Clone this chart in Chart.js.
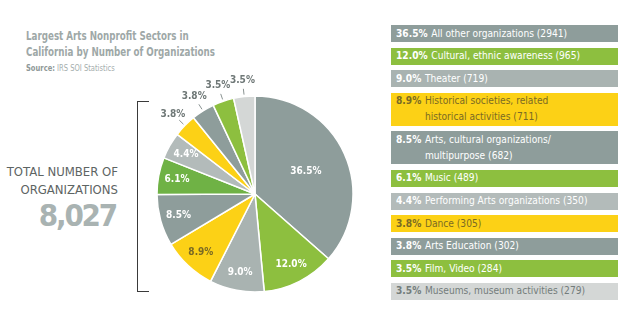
<!DOCTYPE html>
<html><head><meta charset="utf-8">
<script src="https://cdn.jsdelivr.net/npm/chart.js@4.4.0/dist/chart.umd.min.js"></script>
<style>
html,body{margin:0;padding:0;background:#fff;width:640px;height:328px;overflow:hidden;font-family:"DejaVu Sans Condensed","DejaVu Sans",sans-serif;}
#title{position:absolute;left:26px;top:28px;color:#9ea8a7;font-weight:bold;font-size:12.6px;line-height:16px;transform:scaleX(0.77);transform-origin:0 0;white-space:nowrap}
#source{position:absolute;left:26px;top:62px;font-size:9.4px;color:#a5aead;transform:scaleX(0.8);transform-origin:0 0;white-space:nowrap}
#source b{color:#8f9998}
#total{position:absolute;right:522px;top:163px;text-align:right;color:#5d6463;font-size:13px;line-height:18px;}
#totalNum{font-size:31px;font-weight:bold;color:#a9b3b2;line-height:32px;letter-spacing:-2.2px;margin-right:2px}
#bracket{position:absolute;left:137px;top:101px;width:11px;height:189px;border:1.5px solid #3a3a3a;border-right:none;}
#wrap{position:absolute;left:125px;top:74px;width:260px;height:240px}
#legend{position:absolute;left:391px;top:25px;width:227px;display:flex;flex-direction:column;gap:5.6px}
.item{font-size:11px;line-height:16px;padding:0.5px 5px;color:#fff;box-sizing:border-box}
.item .in{display:flex;transform:scaleX(0.92);transform-origin:0 0;white-space:nowrap}
.item .p{font-weight:bold;margin-right:4px;white-space:nowrap}
.item .l{white-space:pre}
</style></head>
<body>
<div id="title">Largest Arts Nonprofit Sectors in<br>California by Number of Organizations</div>
<div id="source"><b>Source:</b> IRS SOI Statistics</div>
<div id="total">TOTAL NUMBER OF<br>ORGANIZATIONS<div id="totalNum"></div></div>
<div id="bracket"></div>
<div id="wrap"><canvas id="c" width="260" height="240"></canvas></div>
<div id="legend"></div>
<script>
// ---- data ----
const categories = [
  "All other organizations",
  "Cultural, ethnic awareness",
  "Theater",
  "Historical societies, related\nhistorical activities",
  "Arts, cultural organizations/\nmultipurpose",
  "Music",
  "Performing Arts organizations",
  "Dance",
  "Arts Education",
  "Film, Video",
  "Museums, museum activities"
];
const percents = [36.5, 12.0, 9.0, 8.9, 8.5, 6.1, 4.4, 3.8, 3.8, 3.5, 3.5];
const counts = [2941, 965, 719, 711, 682, 489, 350, 305, 302, 284, 279];
const totalOrganizations = 8027;

// ---- styles ----
const sliceColors = ["#8e9d9b","#8dbf3f","#a9b3b1","#fcd116","#8e9d9b","#6fb245","#b3bbba","#fcd116","#8e9d9b","#8dbf3f","#d4d7d6"];
const legendColors = ["#8e9d9b","#8dbf3f","#a9b3b1","#fcd116","#8e9d9b","#8dbf3f","#b3bbba","#fcd116","#8e9d9b","#8dbf3f","#d4d7d6"];
const legendText = ["#fff","#fff","#fff","#7a6a24","#fff","#fff","#fff","#7a6a24","#fff","#fff","#737c7b"];
const pieLabelText = ["#fff","#fff","#fff","#7a6a24","#fff","#fff","#fff","#6f7877","#6f7877","#6f7877","#6f7877"];

document.getElementById('totalNum').textContent = totalOrganizations.toLocaleString('en-US');

const legend = document.getElementById('legend');
categories.forEach((c,i)=>{
  const d = document.createElement('div');
  d.className='item';
  d.style.background = legendColors[i];
  d.style.color = legendText[i];
  d.innerHTML = '<div class="in"><span class="p"></span><span class="l"></span></div>';
  d.querySelector('.p').textContent = percents[i].toFixed(1)+'%';
  d.querySelector('.l').textContent = c + ' (' + counts[i] + ')';
  legend.appendChild(d);
});

const fmt = v => v.toFixed(1)+'%';
const labelPlugin = {
  id:'pieLabels',
  afterDatasetsDraw(chart){
    const ctx = chart.ctx;
    const meta = chart.getDatasetMeta(0);
    meta.data.forEach((arc,i)=>{
      const p = arc.getProps(['x','y','startAngle','endAngle','outerRadius'], true);
      const mid = (p.startAngle+p.endAngle)/2;
      const cs = Math.cos(mid), sn = Math.sin(mid);
      const v = percents[i];
      let rr;
      ctx.save();
      ctx.font = "bold 10px 'DejaVu Sans Condensed','DejaVu Sans',sans-serif";
      ctx.textAlign='center'; ctx.textBaseline='middle';
      if (v >= 20) rr = 0.57*p.outerRadius;
      else if (v >= 4) rr = 0.81*p.outerRadius;
      else {
        rr = 1.17*p.outerRadius;
        ctx.strokeStyle = '#8a9392'; ctx.lineWidth = 1;
        ctx.beginPath();
        ctx.moveTo(p.x+cs*1.02*p.outerRadius, p.y+sn*1.02*p.outerRadius);
        ctx.lineTo(p.x+cs*1.08*p.outerRadius, p.y+sn*1.08*p.outerRadius);
        ctx.stroke();
      }
      ctx.fillStyle = pieLabelText[i];
      ctx.fillText(fmt(v), p.x+cs*rr, p.y+sn*rr);
      ctx.restore();
    });
  }
};

new Chart(document.getElementById('c'), {
  type:'pie',
  data:{ labels: categories, datasets:[{ data: percents, backgroundColor: sliceColors, borderColor:'#fff', borderWidth:1.5 }]},
  options:{
    responsive:false, animation:false, radius:98,
    layout:{padding:0},
    plugins:{legend:{display:false}, tooltip:{enabled:false}}
  },
  plugins:[labelPlugin]
});
</script>
</body></html>
